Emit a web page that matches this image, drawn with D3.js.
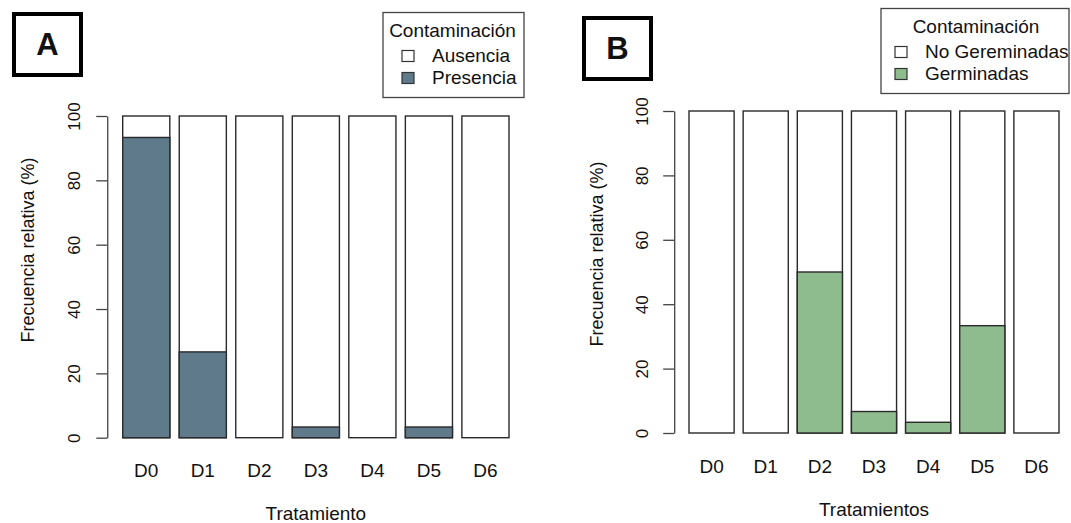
<!DOCTYPE html>
<html>
<head>
<meta charset="utf-8">
<script src="https://cdn.jsdelivr.net/npm/d3@7"></script>
<style>
  body { margin: 0; background: #fff; }
  svg text { font-family: "Liberation Sans", Arial, sans-serif; fill: #111; }
</style>
</head>
<body>
<svg id="chart" width="1071" height="523"></svg>
<script>
// data
var treatments = ["D0", "D1", "D2", "D3", "D4", "D5", "D6"];
var presenciaA = [93.33, 26.67, 0, 3.33, 0, 3.33, 0];
var germinadasB = [0, 0, 50, 6.67, 3.33, 33.33, 0];
var yTicks = [0, 20, 40, 60, 80, 100];
var legendA = ["Ausencia", "Presencia"];
var legendB = ["No Gereminadas", "Germinadas"];

var svg = d3.select("#chart");

function draw_panel(opts) {
  var g = svg.append("g");
  // barplot units: bar i from 0.2 + 1.2*i, width 1
  var x = d3.scaleLinear().domain([0.2, 8.4]).range(opts.xr);
  var y = d3.scaleLinear().domain([0, 100]).range(opts.yr);

  var bars = g.selectAll("g.bar").data(treatments).enter().append("g");
  bars.append("rect")
    .attr("x", function(d, i) { return x(0.2 + 1.2 * i); })
    .attr("width", function() { return x(1.2) - x(0.2); })
    .attr("y", y(100))
    .attr("height", y(0) - y(100))
    .attr("fill", "#fff")
    .attr("stroke", "#2a2a2a").attr("stroke-width", 1.4);
  bars.append("rect")
    .attr("x", function(d, i) { return x(0.2 + 1.2 * i); })
    .attr("width", function() { return x(1.2) - x(0.2); })
    .attr("y", function(d, i) { return y(opts.values[i]); })
    .attr("height", function(d, i) { return y(0) - y(opts.values[i]); })
    .attr("fill", opts.color)
    .attr("stroke", "#2a2a2a").attr("stroke-width", 1.4)
    .style("display", function(d, i) { return opts.values[i] > 0 ? null : "none"; });

  // x labels
  g.selectAll("text.xl").data(treatments).enter().append("text")
    .attr("x", function(d, i) { return x(0.7 + 1.2 * i); })
    .attr("y", opts.xlabY)
    .attr("text-anchor", "middle")
    .style("font-size", "19px")
    .text(function(d) { return d; });

  // y axis
  var axisX = x(0.2) - 0.328 * (x(1.2) - x(0.2));
  var ax = g.append("g")
    .attr("transform", "translate(" + axisX + ",0)")
    .call(d3.axisLeft(y).tickValues(yTicks).tickSize(11).tickSizeOuter(0).tickPadding(0));
  ax.select(".domain").attr("stroke", "#444").attr("stroke-width", 1.3);
  ax.selectAll(".tick line").attr("stroke", "#444").attr("stroke-width", 1.3);
  ax.selectAll(".tick text")
    .attr("x", 0).attr("y", 0).attr("dy", null)
    .attr("transform", "translate(" + (opts.tickLabX - axisX + 6) + ",0) rotate(-90)")
    .attr("text-anchor", "middle")
    .style("font-size", "17px")
    .style("font-family", "'Liberation Sans', Arial, sans-serif")
    .attr("fill", "#111");

  g.append("text")
    .attr("transform", "translate(" + opts.ytitle[0] + "," + opts.ytitle[1] + ") rotate(-90)")
    .attr("text-anchor", "middle")
    .style("font-size", "18px")
    .text("Frecuencia relativa (%)");

  g.append("text")
    .attr("x", (opts.xr[0] + opts.xr[1]) / 2)
    .attr("y", opts.xtitleY)
    .attr("text-anchor", "middle")
    .style("font-size", "19px")
    .text(opts.xtitle);

  // panel letter box
  g.append("rect")
    .attr("x", opts.box[0]).attr("y", opts.box[1])
    .attr("width", 67).attr("height", 61)
    .attr("fill", "none").attr("stroke", "#000").attr("stroke-width", 4);
  g.append("text")
    .attr("x", opts.box[0] + 33.5).attr("y", opts.box[1] + 41)
    .attr("text-anchor", "middle")
    .style("font-size", "31px").style("font-weight", "bold")
    .text(opts.letter);

  // legend
  var lg = g.append("g").attr("transform", "translate(" + opts.leg[0] + "," + opts.leg[1] + ")");
  lg.append("rect")
    .attr("width", opts.leg[2]).attr("height", 85)
    .attr("fill", "#fff").attr("stroke", "#444").attr("stroke-width", 1.3);
  lg.append("text")
    .attr("x", opts.leg[2] / 2 + opts.titleShift).attr("y", 24)
    .attr("text-anchor", "middle")
    .style("font-size", "19px")
    .text("Contaminación");
  var items = lg.selectAll("g.item").data(opts.legend).enter().append("g")
    .attr("transform", function(d, i) { return "translate(0," + (49 + 22 * i) + ")"; });
  items.append("rect")
    .attr("x", opts.sqX).attr("y", -11).attr("width", 12).attr("height", 11)
    .attr("fill", function(d, i) { return i === 0 ? "#fff" : opts.color; })
    .attr("stroke", "#333").attr("stroke-width", 1.2);
  items.append("text")
    .attr("x", opts.sqX + 30).attr("y", 0)
    .style("font-size", "19px")
    .text(function(d) { return d; });
}

draw_panel({
  values: presenciaA, color: "#5f7a8a",
  xr: [122.7, 509], yr: [437.7, 116],
  xlabY: 477, xtitleY: 520, xtitle: "Tratamiento",
  tickLabX: 73.5, ytitle: [34, 250],
  box: [14, 14], letter: "A",
  leg: [383, 12.5, 141], titleShift: -1, sqX: 19,
  legend: legendA
});

draw_panel({
  values: germinadasB, color: "#8fbc8f",
  xr: [689, 1059], yr: [433, 111],
  xlabY: 473, xtitleY: 516, xtitle: "Tratamientos",
  tickLabX: 641.5, ytitle: [603, 254],
  box: [584, 18], letter: "B",
  leg: [881, 8.5, 188], titleShift: 1, sqX: 14,
  legend: legendB
});
</script>
</body>
</html>
